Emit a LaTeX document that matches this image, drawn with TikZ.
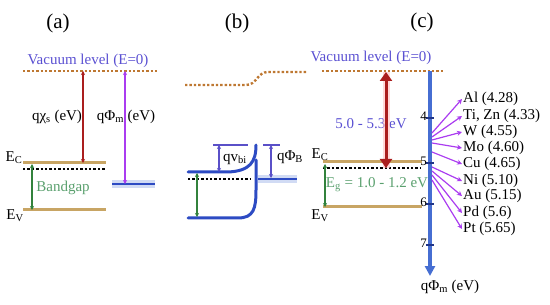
\documentclass[tikz,border=0pt]{standalone}
\usepackage{fontspec}
\setmainfont{Liberation Serif}
\usetikzlibrary{positioning,arrows.meta,calc}

\definecolor{bandtan}{RGB}{200,165,100}
\definecolor{vacbrown}{RGB}{190,120,50}
\definecolor{vactext}{RGB}{90,80,210}
\definecolor{bandblue}{RGB}{45,75,195}
\definecolor{axisblue}{RGB}{70,110,210}
\definecolor{gapgreen}{RGB}{50,130,60}
\definecolor{gaptext}{RGB}{90,160,110}
\definecolor{chired}{RGB}{170,30,30}
\definecolor{phiviolet}{RGB}{170,60,240}
\definecolor{stepviolet}{RGB}{90,80,200}

\begin{document}
\begin{tikzpicture}[
  x=1pt, y=-1pt,
  band/.style={line width=3pt, bandtan},
  fermi/.style={line width=2.4pt, black, dash pattern=on 2.4pt off 2pt},
  vac/.style={line width=2.4pt, vacbrown, dash pattern=on 2.4pt off 2pt},
  semi/.style={line width=3pt, bandblue, line cap=round},
  metal/.style={line width=2pt, bandblue},
  glow/.style={line width=8pt, axisblue!35, opacity=0.7},
  thin/.style={{Stealth[length=4pt,width=4pt]}-{Stealth[length=4pt,width=4pt]}, line width=1.3pt},
  fan/.style={-{Stealth[length=5pt,width=5pt]}, line width=1.2pt, phiviolet},
  lab/.style={font=\fontsize{15}{15}\selectfont, inner sep=1pt},
  small/.style={font=\fontsize{13}{13}\selectfont, inner sep=1pt},
  head/.style={font=\fontsize{21}{21}\selectfont}
]
  \useasboundingbox (0,0) rectangle (550,305);

  % --- (a) isolated semiconductor and metal -----------------------------
  \node[head] (headA) at (58,23) {(a)};
  \node[lab, text=vactext] (vacA) at (88,61) {Vacuum level (E=0)};
  \draw[vac] (23,71) -- (157,71);
  \draw[band] (23,163) -- (106,163);
  \draw[fermi] (23,169) -- (106,169);
  \draw[band] (23,210) -- (106,210);
  \draw[glow] (112,184) -- (155,184);
  \draw[metal] (112,184) -- (155,184);
  \coordinate (chiTop) at (83,71);
  \coordinate (chiBot) at (83,163);
  \draw[thin, chired] (chiTop) -- (chiBot);
  \coordinate (phiTop) at (125,71);
  \coordinate (phiBot) at (125,184);
  \draw[thin, phiviolet] (phiTop) -- (phiBot);
  \coordinate (gapTopA) at (32,164);
  \coordinate (gapBotA) at (32,210);
  \draw[thin, gapgreen] (gapTopA) -- (gapBotA);
  \node[lab] (chiA) at (57,117) {qχ\textsubscript{s} (eV)};
  \node[lab] (phiA) at (126,117) {qΦ\textsubscript{m} (eV)};
  \node[lab] (ecA) at (14,158) {E\textsubscript{C}};
  \node[lab] (evA) at (15,216) {E\textsubscript{V}};
  \node[lab, text=gaptext] (gapA) at (63,188) {Bandgap};

  % --- (b) contact: band bending -----------------------------------------
  \node[head] (headB) at (237,23) {(b)};
  \draw[vac] (185,85) -- (246,85) .. controls (257,85) and (257,72) .. (268,72) -- (307,72);
  \draw[semi] (188,172) -- (228,172) .. controls (250,171) and (256,162) .. (256,145);
  \draw[semi] (188,218) -- (238,218) .. controls (254,218) and (256,208) .. (256,190) -- (256,160);
  \draw[fermi] (188,179) -- (250,179);
  \draw[glow] (258,179) -- (297,179);
  \draw[metal] (258,179) -- (297,179);
  \draw[line width=1.5pt, stepviolet] (213,145) -- (248,145);
  \draw[line width=1.5pt, stepviolet] (263,145) -- (280,145);
  \coordinate (biTop) at (219,145);
  \coordinate (biBot) at (219,172);
  \draw[thin, stepviolet] (biTop) -- (biBot);
  \coordinate (barTop) at (271,145);
  \coordinate (barBot) at (271,178);
  \draw[thin, stepviolet] (barTop) -- (barBot);
  \coordinate (gapTopB) at (197,173);
  \coordinate (gapBotB) at (197,217);
  \draw[thin, gapgreen] (gapTopB) -- (gapBotB);
  \node[lab] (biB) at (235,159) {qv\textsubscript{bi}};
  \node[lab] (barB) at (290,157) {qΦ\textsubscript{B}};

  % --- (c) silicon against metal work functions --------------------------
  \node[head] (headC) at (422,22) {(c)};
  \node[lab, text=vactext] (vacC) at (371,58) {Vacuum level (E=0)};
  \draw[vac] (322,71) -- (445,71);
  \draw[band] (323,162) -- (422,162);
  \draw[fermi] (323,168) -- (420,168);
  \draw[band] (323,207) -- (422,207);
  \node[lab] (ecC) at (320,155) {E\textsubscript{C}};
  \node[lab] (evC) at (320,216) {E\textsubscript{V}};
  \coordinate (gapTopC) at (325,164);
  \coordinate (gapBotC) at (325,207);
  \draw[thin, gapgreen] (gapTopC) -- (gapBotC);
  \node[lab, text=gaptext] (gapC) at (377,185) {E\textsubscript{g} = 1.0 - 1.2 eV};
  \node[lab, text=vactext] (affC) at (371,124) {5.0 - 5.3 eV};
  \coordinate (affTop) at (386,72);
  \coordinate (affBot) at (386,168);
  \draw[line width=7pt, red!25, opacity=0.6] (affTop) -- (affBot);
  \draw[{Triangle[length=9pt,width=12pt]}-{Triangle[length=9pt,width=12pt]}, line width=3pt, chired] (affTop) -- (affBot);

  % work function axis
  \coordinate (axTop) at (430,71);
  \coordinate (axBot) at (430,276);
  \draw[-{Triangle[length=10pt,width=10pt]}, line width=3.5pt, axisblue] (axTop) -- (axBot);
  \foreach \v/\y in {4/118, 5/163, 6/204, 7/245} {
    \draw[line width=1.5pt, bandblue!70!black] (426,\y) -- (434,\y);
    \node[small, anchor=east] (tick\v) at (428,\y-2) {\v};
  }
  \node[lab] (axLab) at (450,287) {qΦ\textsubscript{m} (eV)};

  % metals
  \foreach \n/\s/\e/\t in {Al/133/99/{Al (4.28)}, Ti/137/116/{Ti, Zn (4.33)},
      W/140/132/{W (4.55)}, Mo/143/148/{Mo (4.60)}, Cu/152/164/{Cu (4.65)},
      Ni/167/181/{Ni (5.10)}, Au/171/196/{Au (5.15)}, Pd/175/213/{Pd (5.6)},
      Pt/180/229/{Pt (5.65)}} {
    \node[lab, anchor=west] (met\n) at (462,\e) {\t};
    \draw[fan] (432,\s) -- (met\n.west);
  }
\end{tikzpicture}
\end{document}
